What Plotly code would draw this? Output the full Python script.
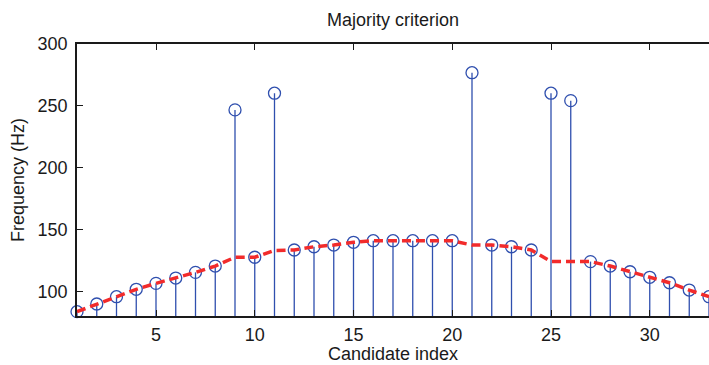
import plotly.graph_objects as go

# Candidate pitch frequencies (Hz) per candidate index
candidate_index = list(range(1, 34))
candidate_freq = [83.5, 89.7, 95.6, 101.6, 106.4, 110.7, 115.3, 120.4, 246.7, 127.5,
                  260.2, 133.4, 136.0, 137.4, 139.6, 140.9, 140.9, 140.9, 140.9, 140.9,
                  276.8, 137.4, 136.0, 133.4, 260.2, 254.2, 124.0, 120.4, 115.8, 111.3,
                  106.9, 101.0, 95.6]

# Track chosen by majority criterion (outliers replaced)
majority_freq = [83.5, 89.7, 95.6, 101.6, 106.4, 110.7, 115.3, 120.4, 127.5, 127.5,
                 133.0, 133.4, 136.0, 137.4, 139.6, 140.9, 140.9, 140.9, 140.9, 140.9,
                 137.4, 137.4, 136.0, 133.4, 124.0, 124.0, 124.0, 120.4, 115.8, 111.3,
                 106.9, 101.0, 95.6]

x_ticks = [5, 10, 15, 20, 25, 30]
y_ticks = [100, 150, 200, 250, 300]

STEM_BLUE = "#2f4fae"
FONT = "Liberation Sans, Arial, Helvetica, sans-serif"

# Build stem segments from baseline 0 up to each value
stem_x, stem_y = [], []
for xi, yi in zip(candidate_index, candidate_freq):
    stem_x += [xi, xi, None]
    stem_y += [0, yi, None]

fig = go.Figure()
fig.add_trace(go.Scatter(x=stem_x, y=stem_y, mode="lines",
                         line=dict(color=STEM_BLUE, width=1.3),
                         hoverinfo="skip", showlegend=False))
fig.add_trace(go.Scatter(x=candidate_index, y=candidate_freq, mode="markers",
                         marker=dict(symbol="circle-open", size=12,
                                     line=dict(color=STEM_BLUE, width=1.3),
                                     color=STEM_BLUE),
                         cliponaxis=False, showlegend=False))
fig.add_trace(go.Scatter(x=candidate_index, y=majority_freq, mode="lines",
                         line=dict(color="#f22b2b", width=3.5, dash="9px,5px"),
                         showlegend=False))

axis_common = dict(showline=True, linecolor="#1a1a1a", linewidth=1.5,
                   ticks="inside", ticklen=6, tickwidth=1, tickcolor="#1a1a1a",
                   showgrid=False, zeroline=False,
                   tickfont=dict(family=FONT, size=18, color="#1a1a1a"))

fig.update_xaxes(range=[1, 33], tickvals=x_ticks, mirror="ticks",
                 ticklabelstandoff=2, **axis_common)
fig.update_yaxes(range=[80, 300], tickvals=y_ticks, mirror=False,
                 ticklabelstandoff=4, **axis_common)

fig.update_layout(
    width=709, height=365,
    margin=dict(l=77, r=0, t=44, b=49),
    plot_bgcolor="white", paper_bgcolor="white",
    title=dict(text="Majority criterion", x=(77 + 709) / 2 / 709, xanchor="center",
               y=1 - 20 / 365, yanchor="middle",
               font=dict(family=FONT, size=18, color="#1a1a1a")),
    annotations=[
        dict(text="Candidate index", xref="paper", yref="paper", x=0.5, y=0,
             yshift=-38, xanchor="center", yanchor="middle", showarrow=False,
             font=dict(family=FONT, size=18, color="#1a1a1a")),
        dict(text="Frequency (Hz)", xref="paper", yref="paper", x=0, y=0.5,
             xshift=-59, xanchor="center", yanchor="middle", textangle=-90,
             showarrow=False, font=dict(family=FONT, size=18, color="#1a1a1a")),
    ],
)

fig.write_html("out.html")
